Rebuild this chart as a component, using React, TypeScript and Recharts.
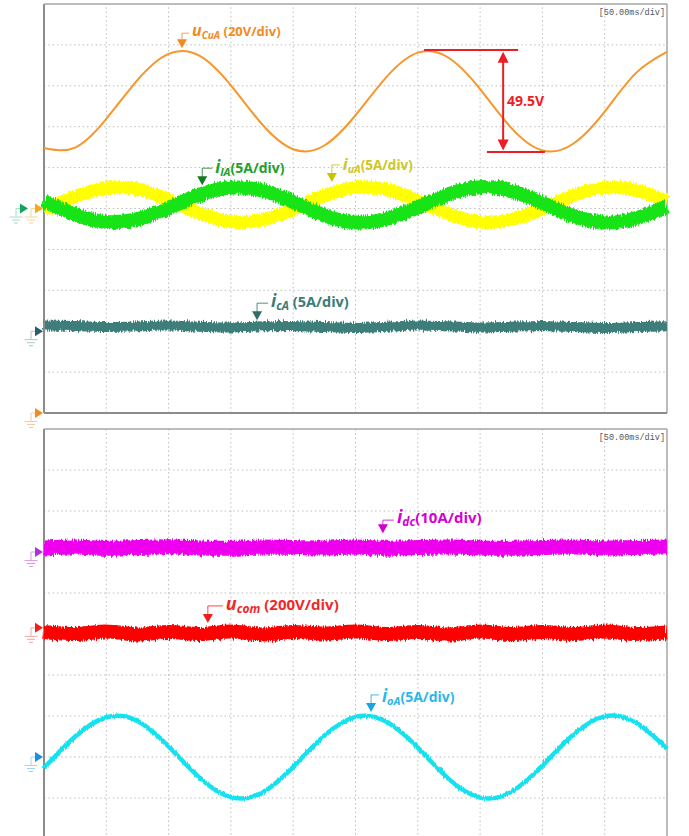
import React from 'react';
import { LineChart, Line, XAxis, YAxis, ReferenceLine, ReferenceDot } from 'recharts';

// time axis in divisions (50 ms/div)
const X_DIV = [0, 0.5, 1, 1.5, 2, 2.5, 3, 3.5, 4, 4.5, 5, 5.5, 6, 6.5, 7, 7.5, 8, 8.5, 9, 9.5, 10];
// top screen (vertical position in divisions from bottom)
const U_CUA = [6.48, 6.49, 7.19, 8.14, 8.78, 8.73, 8.01, 7.06, 6.45, 6.54, 7.28, 8.22, 8.81, 8.68, 7.92, 6.97, 6.42, 6.59, 7.37, 8.31, 8.83];
const I_UA = [4.96, 5.29, 5.50, 5.47, 5.21, 4.88, 4.68, 4.72, 4.98, 5.31, 5.51, 5.46, 5.19, 4.87, 4.67, 4.73, 5.00, 5.32, 5.51, 5.45, 5.17];
const I_LA = [5.18, 4.85, 4.67, 4.74, 5.01, 5.34, 5.51, 5.44, 5.16, 4.83, 4.66, 4.75, 5.03, 5.35, 5.52, 5.43, 5.14, 4.82, 4.66, 4.76, 5.05];
const I_CA = [2.14, 2.13, 2.10, 2.12, 2.14, 2.11, 2.09, 2.12, 2.13, 2.10, 2.08, 2.11, 2.14, 2.12, 2.09, 2.11, 2.13, 2.10, 2.08, 2.10, 2.12];
// bottom screen
const I_DC = [7.10, 7.12, 7.09, 7.11, 7.13, 7.10, 7.09, 7.12, 7.11, 7.10, 7.12, 7.09, 7.11, 7.12, 7.10, 7.09, 7.11, 7.12, 7.10, 7.11, 7.12];
const U_COM = [5.05, 5.00, 5.06, 4.99, 5.05, 5.00, 5.06, 4.99, 5.05, 5.01, 5.06, 5.00, 5.05, 4.99, 5.06, 5.00, 5.05, 5.00, 5.06, 5.00, 5.04];
const I_OA = [1.73, 2.50, 2.97, 2.88, 2.26, 1.49, 1.02, 1.13, 1.76, 2.52, 2.98, 2.86, 2.23, 1.46, 1.01, 1.15, 1.79, 2.55, 2.99, 2.84, 2.20];

const GRID_TICKS = [0, 1, 2, 3, 4, 5, 6, 7, 8, 9, 10];
const INNER_TICKS = [1, 2, 3, 4, 5, 6, 7, 8, 9];
const TIME_BASE = '[50.00ms/div]';
const PP_TEXT = '49.5V';

const topData = X_DIV.map((x, i) => ({ x, ucua: U_CUA[i], iua: I_UA[i], ila: I_LA[i], ica: I_CA[i] }));
const botData = X_DIV.map((x, i) => ({ x, idc: I_DC[i], ucom: U_COM[i], ioa: I_OA[i] }));

const FONT = "'Open Sans', 'Noto Sans', sans-serif";
const RED = '#ee1c24';

function groundMarker(tri: string, gnd: string, dx = 0) {
  return (p: any) => {
    const cx = p.cx + dx;
    const cy = p.cy;
    const gx = cx - 13;
    return (
      <g>
        <polyline points={`${gx},${cy + 8} ${gx},${cy} ${cx - 8},${cy}`} fill="none" stroke={gnd} strokeWidth={1} />
        <polygon points={`${cx - 9},${cy - 5} ${cx - 1},${cy} ${cx - 9},${cy + 5}`} fill={tri} />
        <line x1={gx - 6.5} x2={gx + 6.5} y1={cy + 8.5} y2={cy + 8.5} stroke={gnd} strokeWidth={1} />
        <line x1={gx - 4} x2={gx + 4} y1={cy + 11.5} y2={cy + 11.5} stroke={gnd} strokeWidth={1} />
        <line x1={gx - 2} x2={gx + 2} y1={cy + 14.5} y2={cy + 14.5} stroke={gnd} strokeWidth={1} />
      </g>
    );
  };
}

type LabelOpt = { tri: string; col: string; main: string; sub: string; rest: string; fs: number; dx: number; dy: number; stem: number };
function traceLabel(o: LabelOpt) {
  return (p: any) => {
    const { cx, cy } = p;
    return (
      <g>
        <polyline points={`${cx},${cy - 8} ${cx},${cy - o.stem} ${cx + o.dx - 3},${cy - o.stem}`} fill="none" stroke={o.tri} strokeWidth={1} opacity={0.8} />
        <polygon points={`${cx - 5},${cy - 9} ${cx + 5},${cy - 9} ${cx},${cy}`} fill={o.tri} />
        <text x={cx + o.dx} y={cy + o.dy} fill={o.col} fontFamily={FONT} fontWeight={700}>
          <tspan fontStyle="italic" fontSize={o.fs + 3}>{o.main}</tspan>
          <tspan fontStyle="italic" fontSize={o.fs - 3} dy={3}>{o.sub}</tspan>
          <tspan fontSize={o.fs} dy={-3}>{o.rest}</tspan>
        </text>
      </g>
    );
  };
}

const DoubleArrow = (p: any) => {
  const { x1, y1, y2 } = p;
  const top = Math.min(y1, y2);
  const bot = Math.max(y1, y2);
  return (
    <g>
      <line x1={x1} x2={x1} y1={top + 8} y2={bot - 8} stroke={RED} strokeWidth={2} />
      <polygon points={`${x1 - 5.5},${top + 11} ${x1 + 5.5},${top + 11} ${x1},${top}`} fill={RED} />
      <polygon points={`${x1 - 5.5},${bot - 11} ${x1 + 5.5},${bot - 11} ${x1},${bot}`} fill={RED} />
    </g>
  );
};

const TimeBase = (p: any) => (
  <text x={p.cx - 2} y={p.cy + 11} textAnchor="end" fontFamily="'Liberation Mono', 'DejaVu Sans Mono', monospace" fontSize={8.5} fill="#555">
    {TIME_BASE}
  </text>
);

const PPText = (p: any) => (
  <text x={p.cx} y={p.cy + 5} fontFamily={FONT} fontWeight={700} fontSize={14} fill={RED}>
    {PP_TEXT}
  </text>
);

function frame(withBottom: boolean) {
  const items: any[] = [
    <XAxis key="x" type="number" dataKey="x" domain={[0, 10]} ticks={GRID_TICKS} tick={false} axisLine={false} tickLine={false} height={0} />,
    <YAxis key="y" type="number" domain={[0, 10]} ticks={GRID_TICKS} tick={false} axisLine={false} tickLine={false} width={0} />,
  ];
  INNER_TICKS.forEach((t) => {
    items.push(<ReferenceLine key={`gx${t}`} x={t} stroke="#bcbcbc" strokeDasharray="1.5 2.8" strokeWidth={1} />);
    items.push(<ReferenceLine key={`gy${t}`} y={t} stroke="#bcbcbc" strokeDasharray="1.5 2.8" strokeWidth={1} />);
  });
  items.push(<ReferenceLine key="b0" x={0} stroke="#8c8c8c" strokeWidth={2} />);
  items.push(<ReferenceLine key="b1" x={10} stroke="#a6a6a6" strokeWidth={1.5} />);
  items.push(<ReferenceLine key="b2" y={10} stroke="#a6a6a6" strokeWidth={1.5} />);
  if (withBottom) items.push(<ReferenceLine key="b3" y={0} stroke="#8c8c8c" strokeWidth={2} />);
  return items;
}

export default function App() {
  return (
    <div style={{ position: 'absolute', left: 0, top: 0, width: 689, height: 836, overflow: 'hidden', background: '#fff' }}>
      <svg width={0} height={0} style={{ position: 'absolute' }}>
        <defs>
          <filter id="rough" filterUnits="userSpaceOnUse" x={0} y={0} width={700} height={450}>
            <feTurbulence type="fractalNoise" baseFrequency="0.9 0.08" numOctaves={2} seed={3} result="n" />
            <feDisplacementMap in="SourceGraphic" in2="n" scale={6} xChannelSelector="R" yChannelSelector="G" />
          </filter>
          <filter id="rough2" filterUnits="userSpaceOnUse" x={0} y={0} width={700} height={450}>
            <feTurbulence type="fractalNoise" baseFrequency="0.9 0.08" numOctaves={2} seed={7} result="n" />
            <feDisplacementMap in="SourceGraphic" in2="n" scale={3} xChannelSelector="R" yChannelSelector="G" />
          </filter>
        </defs>
      </svg>
      <div style={{ position: 'absolute', left: 0, top: 0 }}>
        <LineChart width={689} height={432} data={topData} margin={{ top: 4, right: 22, bottom: 19, left: 44 }}>
          {frame(true)}
          <Line type="natural" dataKey="ucua" stroke="#f7962a" strokeWidth={2} dot={false} isAnimationActive={false} />
          <Line type="natural" dataKey="iua" stroke="#ffff00" strokeWidth={13} dot={false} isAnimationActive={false} filter="url(#rough)" />
          <Line type="natural" dataKey="ila" stroke="#12e412" strokeWidth={14} dot={false} isAnimationActive={false} filter="url(#rough)" />
          <Line type="monotone" dataKey="ica" stroke="#3e7d7a" strokeWidth={10} dot={false} isAnimationActive={false} filter="url(#rough)" />
          <ReferenceLine segment={[{ x: 6.1, y: 8.875 }, { x: 7.61, y: 8.875 }]} stroke={RED} strokeWidth={2} />
          <ReferenceLine segment={[{ x: 7.11, y: 6.38 }, { x: 8.04, y: 6.38 }]} stroke={RED} strokeWidth={2} />
          <ReferenceLine segment={[{ x: 7.37, y: 8.83 }, { x: 7.37, y: 6.42 }]} shape={DoubleArrow} />
          <ReferenceDot x={7.43} y={7.63} r={0} shape={PPText} />
          <ReferenceDot x={10} y={10} r={0} shape={TimeBase} />
          <ReferenceDot x={2.215} y={8.92} r={0} shape={traceLabel({ tri: '#f28a24', col: '#f28a24', main: 'u', sub: 'CuA', rest: ' (20V/div)', fs: 13, dx: 10, dy: -12, stem: 15 })} />
          <ReferenceDot x={2.54} y={5.57} r={0} shape={traceLabel({ tri: '#177a22', col: '#22a02c', main: 'i', sub: 'lA', rest: '(5A/div)', fs: 14, dx: 13, dy: -12, stem: 17 })} />
          <ReferenceDot x={4.62} y={5.65} r={0} shape={traceLabel({ tri: '#c8c400', col: '#cdc72a', main: 'i', sub: 'uA', rest: '(5A/div)', fs: 13.5, dx: 11, dy: -12, stem: 17 })} />
          <ReferenceDot x={3.42} y={2.27} r={0} shape={traceLabel({ tri: '#2f6e6b', col: '#3b7b78', main: 'i', sub: 'cA', rest: ' (5A/div)', fs: 14.5, dx: 14, dy: -13, stem: 17 })} />
          <ReferenceDot x={0} y={5} r={0} shape={groundMarker('#16a35a', '#a8dcc0', -15)} />
          <ReferenceDot x={0} y={5} r={0} shape={groundMarker('#f6a81e', '#f3d896', 0)} />
          <ReferenceDot x={0} y={2} r={0} shape={groundMarker('#2b5d6c', '#a8c6c4', 0)} />
          <ReferenceDot x={0} y={0} r={0} shape={groundMarker('#f68a1e', '#f7c9a0', 0)} />
        </LineChart>
      </div>
      <div style={{ position: 'absolute', left: 0, top: 425 }}>
        <LineChart width={689} height={420} data={botData} margin={{ top: 4, right: 22, bottom: 6, left: 44 }}>
          {frame(false)}
          <Line type="monotone" dataKey="idc" stroke="#ee00ee" strokeWidth={15} dot={false} isAnimationActive={false} filter="url(#rough)" />
          <Line type="monotone" dataKey="ucom" stroke="#ff0000" strokeWidth={14} dot={false} isAnimationActive={false} filter="url(#rough)" />
          <Line type="natural" dataKey="ioa" stroke="#14e2ef" strokeWidth={4.5} dot={false} isAnimationActive={false} filter="url(#rough2)" />
          <ReferenceDot x={10} y={10} r={0} shape={TimeBase} />
          <ReferenceDot x={5.44} y={7.46} r={0} shape={traceLabel({ tri: '#d000d0', col: '#d400d4', main: 'i', sub: 'dc', rest: '(10A/div)', fs: 15, dx: 14, dy: -10, stem: 13 })} />
          <ReferenceDot x={2.63} y={5.27} r={0} shape={traceLabel({ tri: '#f01c1c', col: '#f02828', main: 'u', sub: 'com', rest: ' (200V/div)', fs: 15, dx: 18, dy: -13, stem: 17 })} />
          <ReferenceDot x={5.25} y={3.1} r={0} shape={traceLabel({ tri: '#1aa4e4', col: '#2cb6ea', main: 'i', sub: 'oA', rest: '(5A/div)', fs: 14, dx: 11, dy: -10, stem: 17 })} />
          <ReferenceDot x={0} y={7} r={0} shape={groundMarker('#b030d8', '#e09ae6', 0)} />
          <ReferenceDot x={0} y={5.15} r={0} shape={groundMarker('#f02020', '#f4a4a4', 0)} />
          <ReferenceDot x={0} y={2} r={0} shape={groundMarker('#1a8fe0', '#9fd6f2', 0)} />
        </LineChart>
      </div>
    </div>
  );
}
